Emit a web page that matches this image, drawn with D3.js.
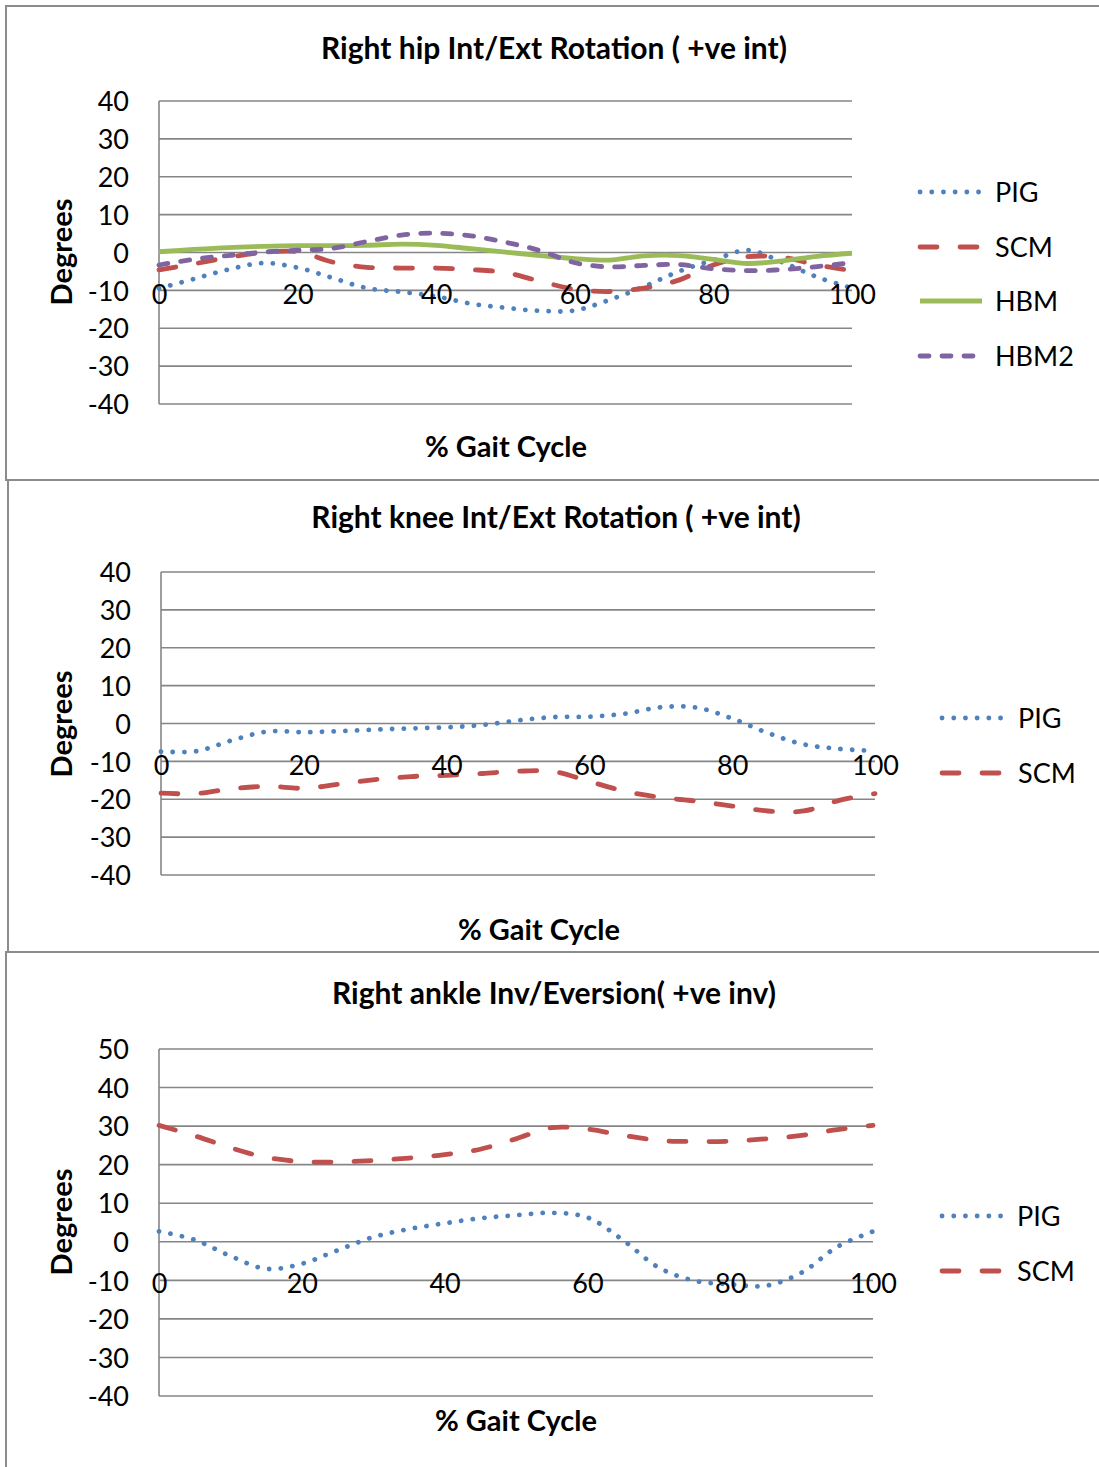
<!DOCTYPE html>
<html>
<head>
<meta charset="utf-8">
<script src="https://cdn.jsdelivr.net/npm/d3@7"></script>
<style>
  html, body { margin: 0; padding: 0; background: #fff; }
  svg { display: block; }
  text { font-family: Lato, "Open Sans", sans-serif; fill: #000; }
</style>
</head>
<body>
<svg id="fig" width="1099" height="1467"></svg>
<script>
// ---- data ----------------------------------------------------------------
const gaitPct = [0, 5, 10, 15, 20, 25, 30, 35, 40, 45, 50, 55, 60, 65, 70, 75, 80, 85, 90, 95, 100];
const xTicks = [0, 20, 40, 60, 80, 100];

// Right hip internal/external rotation (degrees)
const hipTicks = [-40, -30, -20, -10, 0, 10, 20, 30, 40];
const hipPIG  = [-9.5, -7.0, -4.5, -2.8, -4.0, -6.7, -9.4, -10.4, -11.6, -13.5, -14.6, -15.4, -15.3, -12.5, -9.0, -5.0, -2.0, 0.6, -2.6, -6.5, -9.4];
const hipSCM  = [-4.6, -3.0, -1.3, 0.0, 0.2, -2.5, -3.9, -4.1, -4.1, -4.5, -5.3, -7.6, -9.7, -10.3, -9.4, -7.3, -3.3, -1.1, -1.3, -3.3, -4.8];
const hipHBM  = [0.2, 0.8, 1.3, 1.6, 1.8, 1.8, 1.9, 2.2, 1.9, 1.0, 0.1, -0.8, -1.6, -2.0, -0.9, -0.8, -1.8, -2.9, -2.2, -1.0, -0.2];
const hipHBM2 = [-3.3, -1.8, -0.8, 0.1, 0.6, 1.1, 2.9, 4.6, 5.1, 4.4, 2.7, 0.5, -2.7, -3.8, -3.4, -3.2, -4.3, -4.8, -4.5, -3.7, -2.7];

// Right knee internal/external rotation (degrees)
const kneeTicks = [-40, -30, -20, -10, 0, 10, 20, 30, 40];
const kneePIG = [-7.4, -7.3, -4.4, -2.1, -2.3, -2.0, -1.6, -1.3, -1.0, -0.4, 0.8, 1.7, 1.8, 2.6, 4.3, 4.2, 1.3, -2.5, -5.5, -6.7, -7.2];
const kneeSCM = [-18.4, -18.5, -17.2, -16.6, -17.1, -16.0, -14.8, -14.0, -13.7, -13.2, -12.6, -12.7, -15.3, -17.9, -19.5, -20.5, -21.8, -23.1, -23.1, -20.3, -18.5];

// Right ankle inversion/eversion (degrees)
const ankleTicks = [-40, -30, -20, -10, 0, 10, 20, 30, 40, 50];
const anklePIG = [2.7, 0.5, -3.7, -7.0, -5.7, -2.2, 1.2, 3.3, 4.8, 6.1, 6.9, 7.5, 6.3, 0.4, -6.7, -10.1, -11.0, -11.4, -8.0, -1.3, 2.7];
const ankleSCM = [30.2, 27.5, 24.4, 21.9, 20.8, 20.7, 21.1, 21.7, 22.6, 24.0, 26.7, 29.6, 29.2, 27.6, 26.3, 26.0, 26.1, 26.7, 27.6, 29.1, 30.2];

// ---- series appearance ---------------------------------------------------
const seriesStyle = {
  PIG:  { color: "#4f81bd", dash: "0.1 11.6", cap: "round" },
  SCM:  { color: "#c0504d", dash: "17 23",    cap: "round" },
  HBM:  { color: "#9bbb59", dash: null,       cap: "butt" },
  HBM2: { color: "#8064a2", dash: "9 13",     cap: "round" }
};

const svg = d3.select("#fig");
const gridColor = "#868686";
const borderColor = "#8c8c8c";
const labelFormat = d => String(d);   // plain hyphen for negatives
const lineWidth = 4.8;

function drawChart(cfg) {
  const g = svg.append("g");

  // outer frame
  g.append("rect")
    .attr("x", cfg.frame.x).attr("y", cfg.frame.y)
    .attr("width", cfg.frame.w).attr("height", cfg.frame.h)
    .attr("fill", "#fff").attr("stroke", borderColor).attr("stroke-width", 2);

  const x = d3.scaleLinear().domain([0, 100]).range([cfg.plot.left, cfg.plot.right]);
  const y = d3.scaleLinear().domain(d3.extent(cfg.yTicks)).range([cfg.plot.bottom, cfg.plot.top]);

  // horizontal gridlines
  g.append("g").selectAll("line").data(cfg.yTicks).join("line")
    .attr("x1", cfg.plot.left).attr("x2", cfg.plot.right)
    .attr("y1", d => y(d)).attr("y2", d => y(d))
    .attr("stroke", gridColor).attr("stroke-width", 1.6);

  // vertical value axis line
  g.append("line")
    .attr("x1", cfg.plot.left).attr("x2", cfg.plot.left)
    .attr("y1", y.range()[1]).attr("y2", y.range()[0])
    .attr("stroke", gridColor).attr("stroke-width", 1.6);

  // y tick labels
  const yAxis = g.append("g")
    .attr("transform", `translate(${cfg.plot.left},0)`)
    .call(d3.axisLeft(y).tickValues(cfg.yTicks).tickSize(0).tickPadding(30).tickFormat(labelFormat));
  yAxis.select(".domain").remove();
  yAxis.attr("font-family", null).attr("font-size", null);
  yAxis.selectAll("text").style("font-size", "27px").attr("dy", "0.36em");

  // series lines
  const line = d3.line()
    .x((d, i) => x(gaitPct[i]))
    .y(d => y(d))
    .curve(d3.curveCatmullRom.alpha(0.5));

  cfg.series.forEach(s => {
    const st = seriesStyle[s.name];
    g.append("path")
      .datum(s.values)
      .attr("d", line)
      .attr("fill", "none")
      .attr("stroke", st.color)
      .attr("stroke-width", lineWidth)
      .attr("stroke-linecap", st.cap)
      .attr("stroke-dasharray", st.dash);
  });

  // x tick labels, sitting below the zero line
  const xAxis = g.append("g")
    .attr("transform", `translate(0,${y(0)})`)
    .call(d3.axisBottom(x).tickValues(xTicks).tickSize(0).tickFormat(labelFormat));
  xAxis.select(".domain").remove();
  xAxis.attr("font-family", null).attr("font-size", null);
  xAxis.selectAll("text").style("font-size", "27px").attr("y", 41.5).attr("dy", "0.36em");

  // titles
  g.append("text")
    .attr("x", cfg.titlePos[0]).attr("y", cfg.titlePos[1])
    .attr("text-anchor", "middle").attr("dy", "0.36em")
    .style("font-size", "30px").style("font-weight", "bold")
    .text(cfg.title);

  g.append("text")
    .attr("transform", `translate(${cfg.yTitlePos[0]},${cfg.yTitlePos[1]}) rotate(-90)`)
    .attr("text-anchor", "middle").attr("dy", "0.36em")
    .style("font-size", "29px").style("font-weight", "bold")
    .text("Degrees");

  g.append("text")
    .attr("x", cfg.xTitlePos[0]).attr("y", cfg.xTitlePos[1])
    .attr("text-anchor", "middle").attr("dy", "0.36em")
    .style("font-size", "29px").style("font-weight", "bold")
    .text("% Gait Cycle");

  // legend
  cfg.series.forEach((s, i) => {
    const st = seriesStyle[s.name];
    const ly = cfg.legend.ys[i];
    g.append("line")
      .attr("x1", cfg.legend.x0).attr("x2", cfg.legend.x1)
      .attr("y1", ly).attr("y2", ly)
      .attr("stroke", st.color).attr("stroke-width", lineWidth)
      .attr("stroke-linecap", st.cap)
      .attr("stroke-dasharray", st.dash);
    g.append("text")
      .attr("x", cfg.legend.tx).attr("y", ly).attr("dy", "0.36em")
      .style("font-size", "27px")
      .text(s.name);
  });
}

drawChart({
  frame: { x: 6, y: 6, w: 1110, h: 474 },
  plot: { left: 159, right: 852, top: 101, bottom: 404 },
  yTicks: hipTicks,
  title: "Right hip Int/Ext Rotation ( +ve int)",
  titlePos: [554, 48],
  yTitlePos: [62, 252],
  xTitlePos: [506, 447],
  series: [
    { name: "PIG", values: hipPIG },
    { name: "SCM", values: hipSCM },
    { name: "HBM", values: hipHBM },
    { name: "HBM2", values: hipHBM2 }
  ],
  legend: { x0: 920, x1: 982, tx: 995, ys: [192, 247, 301, 356] }
});

drawChart({
  frame: { x: 8, y: 480, w: 1110, h: 472 },
  plot: { left: 161, right: 875, top: 572, bottom: 875 },
  yTicks: kneeTicks,
  title: "Right knee Int/Ext Rotation ( +ve int)",
  titlePos: [556, 517],
  yTitlePos: [62, 724],
  xTitlePos: [539, 930],
  series: [
    { name: "PIG", values: kneePIG },
    { name: "SCM", values: kneeSCM }
  ],
  legend: { x0: 942, x1: 1004, tx: 1018, ys: [718, 773] }
});

drawChart({
  frame: { x: 6, y: 952, w: 1110, h: 530 },
  plot: { left: 159, right: 873, top: 1049, bottom: 1396 },
  yTicks: ankleTicks,
  title: "Right ankle Inv/Eversion( +ve inv)",
  titlePos: [554, 993],
  yTitlePos: [62, 1222],
  xTitlePos: [516, 1421],
  series: [
    { name: "PIG", values: anklePIG },
    { name: "SCM", values: ankleSCM }
  ],
  legend: { x0: 942, x1: 1003, tx: 1017, ys: [1216, 1271] }
});
</script>
</body>
</html>
